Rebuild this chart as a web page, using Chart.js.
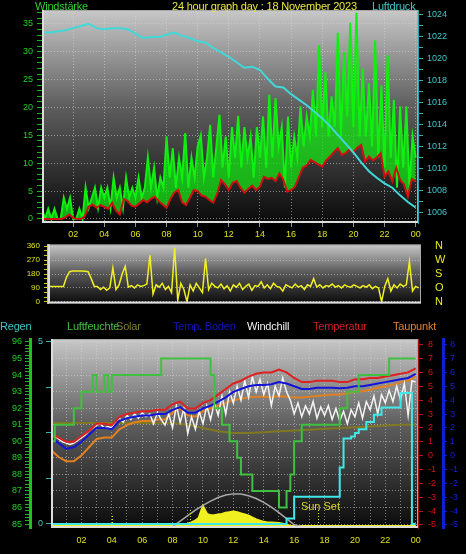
<!DOCTYPE html>
<html>
<head>
<meta charset="utf-8">
<script src="https://cdn.jsdelivr.net/npm/chart.js@4.4.0/dist/chart.umd.min.js"></script>
<style>
html,body{margin:0;padding:0;background:#000;width:466px;height:554px;overflow:hidden;font-family:"Liberation Sans",Arial,sans-serif}
canvas{position:absolute;left:0}
.t{position:absolute;font-size:11px;line-height:13px;white-space:nowrap;letter-spacing:-0.2px}
</style>
</head>
<body>
<canvas id="wind" width="466" height="244" style="top:0"></canvas>
<canvas id="dir" width="466" height="100" style="top:224px"></canvas>
<canvas id="temp" width="466" height="234" style="top:320px"></canvas>

<div class="t" style="left:35px;top:0;color:#30d030">Windstärke</div>
<div class="t" style="left:172px;top:0;color:#e8e840">24 hour graph day : 18 November 2023</div>
<div class="t" style="left:372px;top:0;color:#40c8c8">Luftdruck</div>

<div class="t" style="left:0;top:320px;color:#40c8c8">Regen</div>
<div class="t" style="left:67px;top:320px;color:#40c040">Luftfeuchte</div>
<div class="t" style="left:116px;top:320px;color:#808030">Solar</div>
<div class="t" style="left:173px;top:320px;color:#1414c0">Temp. Boden</div>
<div class="t" style="left:247px;top:320px;color:#f0f0f0">Windchill</div>
<div class="t" style="left:313px;top:320px;color:#d02020">Temperatur</div>
<div class="t" style="left:393px;top:320px;color:#e08030">Taupunkt</div>

<script>
// all series are sampled from 00:00 to 24:00, x = hour of day

// --- wind / pressure (top graph)
const gustStep = 0.2
const windGust = [1.8,0,1.8,0,1.8,0,0,3.8,1.8,3.8, 0,0,1.8,0,5.6,2.0,3.8,5.6,2.0,5.6,
  3.8,5.6,2.0,7.4,3.8,5.6,2.0,7.4,3.8,5.6, 3.8,7.4,3.8,5.6,11.0,5.6,9.2,3.8,7.4,5.6,
  14.8,7.4,12.7,5.6,11.0,7.4,15.4,5.6,11.0,7.4, 13.0,15.0,7.4,11.0,16.9,7.4,13.0,18.7,9.2,14.8,
  7.4,16.5,11.0,18.5,9.2,16.5,11.0,14.8,7.4,16.5, 11.0,18.4,9.2,22.3,11.0,21.7,13.0,16.5,5.6,18.4,
  9.2,14.8,11.0,20.2,13.0,18.4,14.8,23.2,14.8,31.2, 16.5,26.4,14.8,22.0,16.5,33.4,14.8,30.0,18.4,35.2,
  16.5,37.0,14.8,27.0,14.8,24.4,13.0,32.0,11.0,24.0, 9.2,29.4,11.0,21.4,5.6,20.2,9.2,20.2,5.6,14.8,
  11.0]

const avgStep = 0.25
const windAvg = [0,0,0,0,0,0, 0.3,0.8,0.2,0,0,0.5,
  2.2,2.6,2.0,2.5,2.2,1.8,2.9,1.5, 0.8,3.6,3.2,2.4,2.2,2.8,3.4,3.0,3.6,4.0,
  3.2,2.6,2.0,3.6,4.7,5.2,3.0,2.5,3.8,5.2, 5.0,4.2,4.0,3.4,2.9,4.5,7.0,6.2,5.2,6.5,
  6.8,5.6,4.7,5.4,6.0,5.2,5.8,7.6,7.2,7.4, 6.8,8.2,7.0,4.9,5.2,5.8,7.5,9.2,9.6,10.6,
  10.2,9.8,9.4,10.5,11.2,12.0,12.7,11.5,11.8,12.5, 12.0,12.8,13.3,10.3,11.2,10.5,11.0,11.8,7.6,8.5,
  6.7,9.2,7.0,6.2,4.0,7.2,6.7]

const pressStep = 0.5
const pressure = [1022.4,1022.4,1022.5,1022.6,1022.8,1023.0,1023.2,1022.8,1022.7,1022.8,
  1022.8,1022.7,1022.3,1021.9,1022.0,1022.0,1022.2,1022.4,1022.1,1021.9,
  1021.6,1021.5,1021.0,1020.6,1020.2,1019.7,1019.2,1019.3,1019.0,1018.2,
  1017.5,1017.4,1016.8,1016.3,1015.8,1015.2,1014.6,1013.9,1013.1,1012.3,
  1011.5,1010.6,1009.8,1009.2,1008.7,1008.3,1007.6,1007.0,1006.5]

// --- wind direction (middle graph)
const dirStep = 0.2
const windDir = [100,100,100,100,100,100,160,195,200,200, 200,200,198,195,150,100,100,80,95,75,
  90,220,80,110,180,230,95,105,90,110, 100,105,115,300,50,110,95,120,80,100,
  60,350,10,120,80,0,110,70,120,90, 60,280,80,120,100,90,115,85,105,70,
  110,95,120,80,100,115,75,105,100,130, 90,110,85,120,100,95,70,110,100,90,
  115,95,105,80,110,100,150,95,110,90, 105,100,115,95,105,90,110,100,95,110,
  100,90,105,95,110,85,100,90,0,100, 150,70,110,90,115,100,110,260,70,100,
  90]
const dirTicks = [0, 90, 180, 270, 360]
const dirNames = ['N', 'O', 'S', 'W', 'N']

// --- temperatures, humidity, rain, solar (bottom graph)
const tStep = 0.5
const temperature = [1.6,1.3,1.0,1.0,1.4,1.8,2.3,2.3,2.2,2.8, 3.0,3.1,3.2,3.2,3.3,3.3,3.7,3.9,3.4,3.4,
  3.8,4.0,4.4,4.8,5.2,5.4,5.7,5.9,6.0,6.0, 6.2,6.0,5.6,5.3,5.3,5.4,5.4,5.4,5.3,5.3,
  5.5,5.5,5.6,5.6,5.7,5.8,5.9,6.0,6.3]
const tempBoden = [1.3,0.9,0.5,0.6,1.0,1.5,2.0,2.0,1.9,2.5, 2.7,2.8,2.9,2.9,3.0,3.0,3.3,3.5,3.1,3.1,
  3.4,3.6,3.9,4.2,4.6,4.8,5.0,5.1,5.1,5.15, 5.3,5.2,5.0,4.8,4.8,4.9,4.9,4.9,4.85,4.9,
  5.0,5.0,5.1,5.2,5.3,5.4,5.5,5.6,5.9]
const taupunkt = [0.4,-0.1,-0.4,-0.4,0.0,0.6,1.2,1.3,1.3,1.9, 2.2,2.4,2.5,2.5,2.6,2.6,3.1,3.4,2.9,2.8,
  3.2,3.4,3.6,3.8,4.0,4.1,4.2,4.25,4.25,4.2, 4.3,4.25,4.2,4.2,4.25,4.3,4.35,4.4,4.4,4.5,
  4.6,4.65,4.75,4.9,5.0,5.1,5.3,5.4,5.7]

const qStep = 0.25
const windchill = [1.6,1.4,1.2,1.0,0.9,0.8,0.9,1.1,1.3,1.5, 1.8,2.0,2.2,2.3,2.0,2.1,2.0,2.5,2.7,2.4,
  2.9,2.6,3.0,2.7,3.1,2.8,3.0,2.3,3.1,2.6, 2.2,3.0,2.0,3.6,2.4,3.4,1.6,2.8,1.9,3.2,
  2.3,3.6,2.6,3.8,2.9,4.3,3.0,4.6,3.8,5.0, 4.0,5.4,4.2,5.7,4.6,5.5,4.4,5.2,3.6,5.0,
  4.3,5.6,4.6,4.0,3.0,3.8,2.8,3.6,3.0,3.9, 2.7,3.5,2.9,3.6,2.6,3.4,2.5,3.2,2.3,3.3,
  2.8,3.8,2.7,3.9,3.3,4.3,3.0,4.4,3.8,4.7, 3.9,5.0,4.0,5.2,2.9,5.4,5.3]
const humidity = [91,90,91,91,91,91,91,92,92,93, 93,93,94,93,93,94,93,94,94,94,
  94,94,94,94,94,94,94,94,94,94, 95,95,95,95,95,95,95,95,95,95,
  95,95,95,94,92,92,91,91,90,90, 89,88,88,88,87,87,87,87,87,87,
  87,86,86,87,88,90,90,91,91,91, 91,91,91,91,91,91,91,92,92,93,
  93,93,94,94,94,94,94,94,94,94, 95,95,95,95,95,95,95]
const rain = [0,0,0,0,0,0,0,0,0,0, 0,0,0,0,0,0,0,0,0,0,
  0,0,0,0,0,0,0,0,0,0, 0,0,0,0,0,0,0,0,0,0,
  0,0,0,0,0,0,0,0,0,0, 0,0,0,0,0,0,0,0,0,0,
  0,0,0,0.15,0.15,0.75,0.75,0.75,0.75,0.75, 0.75,0.75,0.75,0.75,0.75,0.75,0.75,1.55,2.35,2.35,
  2.4,2.5,2.6,2.6,2.8,2.8,3.0,3.0,3.2,3.2, 3.2,3.2,3.2,3.6,3.6,3.6,0]
const solar = [0,0,0,0,0,0,0,0,0,0, 0,0,0,0,0,0,0,0,0,0,
  0,0,0,0,0,0,0,0,0,0, 0,0,0,2,5,10,20,30,45,70,
  160,100,90,90,95,100,110,115,120,115, 105,95,85,70,55,45,35,30,30,28,
  25,20,10,3,0,0,0,0,0,0, 0,0,0,0,0,0,0,0,0,0,
  0,0,0,0,0,0,0,0,0,0, 0,0,0,0,0,0,0]
const sunStart = 8, sunStep = 0.5
const sunMax = [0,45,90,135,175,210,240,260,270,268,255,232,200,160,115,65,15,0]
const solarLine = [91.1,91.1,91.1,91.1,91.1,91.1,91.1,91.1,91.1,91.0,90.8,90.6,90.5,
  90.5,90.55,90.6,90.65,90.7,90.75,90.8,90.85,90.9,90.95,91.0,91.0]
const markerHours = [4.0, 9.15, 17.6]
const sunSetHour = 17.6

Chart.defaults.font.family = '"Liberation Sans", Arial, sans-serif'
Chart.defaults.font.size = 9

function pts(vals, start, step) {
  return vals.map((v, i) => ({x: start + i * step, y: v}))
}
function range(a, b, s) {
  let out = []
  for (let k = Math.round(a / s); k <= Math.round(b / s); k++) out.push(+(k * s).toFixed(3))
  return out
}
function setTicks(list) {
  return s => { s.ticks = list.map(v => ({value: v})) }
}
const hourLabel = v => v % 2 === 0 ? String(v % 24).padStart(2, '0') : ''
const gridCol = 'rgba(215,215,215,0.55)'

// gradient background and frame of every plot area
const plotBg = {
  id: 'plotBg',
  beforeDraw(chart) {
    const {ctx, chartArea: a} = chart
    const g = ctx.createLinearGradient(0, a.top, 0, a.bottom)
    g.addColorStop(0, '#c8c8c8')
    g.addColorStop(0.45, '#5e5e5e')
    g.addColorStop(1, '#0a0a0a')
    ctx.save()
    ctx.fillStyle = g
    ctx.fillRect(a.left, a.top, a.right - a.left, a.bottom - a.top)
    ctx.restore()
  },
  afterDraw(chart) {
    const {ctx, chartArea: a} = chart
    ctx.save()
    ctx.strokeStyle = '#a8a8a8'
    ctx.lineWidth = 1
    ctx.strokeRect(a.left + 0.5, a.top + 0.5, a.right - a.left - 1, a.bottom - a.top - 1)
    ctx.strokeStyle = '#dcdcdc'
    ctx.lineWidth = 2
    ctx.beginPath()
    ctx.moveTo(a.left + 1, a.top)
    ctx.lineTo(a.left + 1, a.bottom - 1)
    ctx.lineTo(a.right, a.bottom - 1)
    ctx.stroke()
    ctx.restore()
  }
}

const base = {
  responsive: false,
  animation: false,
  events: [],
  devicePixelRatio: 1,
  elements: {point: {radius: 0}, line: {tension: 0}},
  plugins: {legend: {display: false}, tooltip: {enabled: false}, filler: {propagate: false}}
}

// top: Windstärke + Luftdruck
new Chart(document.getElementById('wind'), {
  type: 'line',
  data: {datasets: [
    {data: pts(pressure, 0, pressStep), yAxisID: 'yP', borderColor: '#40d8d8', borderWidth: 2},
    {data: pts(windAvg, 0, avgStep), yAxisID: 'yW', borderColor: '#d01010', borderWidth: 2},
    {data: pts(windGust, 0, gustStep), yAxisID: 'yW', borderColor: '#10f010', borderWidth: 2,
      fill: 1, backgroundColor: 'rgba(20,228,20,0.75)'}
  ]},
  options: {
    ...base,
    layout: {padding: {top: 10}},
    scales: {
      x: {
        type: 'linear', min: 0, max: 24.15,
        afterFit: s => { s.height = 21 },
        afterBuildTicks: setTicks(range(2, 24, 2)),
        grid: {color: gridCol, tickColor: '#909090', tickLength: 4},
        border: {display: false, dash: [1, 2]},
        ticks: {color: '#e0e020', padding: 2, autoSkip: false, maxRotation: 0, callback: hourLabel}
      },
      yW: {
        position: 'left', min: -0.72, max: 37.5,
        afterFit: s => { s.width = 42 },
        afterBuildTicks: setTicks(range(0, 37, 1)),
        grid: {color: c => c.tick && c.tick.value % 5 === 0 ? gridCol : 'transparent', tickColor: '#20b020', tickLength: 5},
        border: {display: false, dash: [1, 2]},
        ticks: {color: '#20d020', padding: 4, autoSkip: false, callback: v => v % 5 === 0 ? v : ''}
      },
      yP: {
        position: 'right', min: 1005.09, max: 1024.45,
        afterFit: s => { s.width = 48 },
        afterBuildTicks: setTicks(range(1006, 1024, 1)),
        grid: {drawOnChartArea: false, tickColor: '#30b0b0', tickLength: 5},
        border: {display: true, color: '#30a0a0', width: 1},
        ticks: {color: '#40c8c8', padding: 4, autoSkip: false, callback: v => v % 2 === 0 ? v : ''}
      }
    }
  },
  plugins: [plotBg]
})

// middle: wind direction
new Chart(document.getElementById('dir'), {
  type: 'line',
  data: {datasets: [
    {data: pts(windDir, 0, dirStep), yAxisID: 'y', borderColor: '#f0f020', borderWidth: 1.5}
  ]},
  options: {
    ...base,
    layout: {padding: {top: 20, bottom: 12}},
    scales: {
      x: {type: 'linear', min: 0, max: 24.15, display: false},
      y: {
        position: 'left', min: -10, max: 370,
        afterFit: s => { s.width = 48 },
        afterBuildTicks: setTicks(range(0, 360, 30)),
        grid: {color: c => c.tick && c.tick.value % 90 === 0 ? gridCol : 'transparent', tickColor: '#d0d020', tickLength: 4},
        border: {display: true, color: '#d0d020', width: 2, dash: [1, 2]},
        ticks: {color: '#e0e020', padding: 4, autoSkip: false, font: {size: 8}, callback: v => v % 90 === 0 ? v : ''}
      },
      yN: {
        position: 'right', min: -10, max: 370,
        afterFit: s => { s.width = 45 },
        afterBuildTicks: setTicks(dirTicks),
        grid: {drawOnChartArea: false, drawTicks: false},
        border: {display: false},
        ticks: {color: '#e8e820', padding: 14, autoSkip: false, font: {size: 11},
          callback: v => dirNames[dirTicks.indexOf(v)]}
      }
    }
  },
  plugins: [plotBg]
})

// dotted sun markers and label in the bottom graph
const sunMarks = {
  id: 'sunMarks',
  afterDatasetsDraw(chart) {
    const {ctx, chartArea: a, scales: {x}} = chart
    const lens = [10, 18, 18]
    ctx.save()
    ctx.strokeStyle = '#e0e020'
    ctx.lineWidth = 1
    ctx.setLineDash([1, 2])
    markerHours.forEach((h, i) => {
      const px = Math.round(x.getPixelForValue(h)) + 0.5
      ctx.beginPath()
      ctx.moveTo(px, a.bottom - 2)
      ctx.lineTo(px, a.bottom - 2 - lens[i])
      ctx.stroke()
    })
    ctx.setLineDash([])
    ctx.fillStyle = '#d8d820'
    ctx.font = '11px "Liberation Sans", Arial, sans-serif'
    ctx.textAlign = 'center'
    ctx.fillText('Sun Set', x.getPixelForValue(sunSetHour) + 2, a.bottom - 18)
    ctx.restore()
  }
}

// bottom: temperatures, humidity, rain, solar
new Chart(document.getElementById('temp'), {
  type: 'line',
  data: {datasets: [
    {data: pts(rain, 0, qStep), yAxisID: 'yR', borderColor: '#40e8e8', borderWidth: 2, stepped: 'after'},
    {data: pts(humidity, 0, qStep), yAxisID: 'yH', borderColor: '#40c040', borderWidth: 2, stepped: 'after'},
    {data: pts(temperature, 0, tStep), yAxisID: 'yT', borderColor: '#e02020', borderWidth: 2},
    {data: pts(tempBoden, 0, tStep), yAxisID: 'yB', borderColor: '#1414d8', borderWidth: 2},
    {data: pts(windchill, 0, qStep), yAxisID: 'yT', borderColor: '#f4f4f4', borderWidth: 1.5},
    {data: pts(taupunkt, 0, tStep), yAxisID: 'yT', borderColor: '#e08020', borderWidth: 2},
    {data: pts(solarLine, 0, 1), yAxisID: 'yH', borderColor: '#807820', borderWidth: 2},
    {data: pts(sunMax, sunStart, sunStep), yAxisID: 'yS', borderColor: '#a8a8a8', borderWidth: 1.5},
    {data: pts(solar, 0, qStep), yAxisID: 'yS', borderColor: '#f0f020', backgroundColor: '#f0f020', borderWidth: 3, fill: 'origin'}
  ]},
  options: {
    ...base,
    layout: {padding: {top: 19}},
    scales: {
      x: {
        type: 'linear', min: 0, max: 24.15,
        afterFit: s => { s.height = 26 },
        afterBuildTicks: setTicks(range(1, 24, 1)),
        grid: {color: gridCol, tickColor: 'transparent', tickLength: 4},
        border: {display: false, dash: [1, 2]},
        ticks: {color: '#e0e020', padding: 3, autoSkip: false, maxRotation: 0, callback: hourLabel}
      },
      yH: {
        position: 'left', weight: 1, min: 84.76, max: 96.18,
        afterFit: s => { s.width = 30 },
        afterBuildTicks: setTicks(range(85, 96, 0.2)),
        grid: {color: c => c.tick && Number.isInteger(c.tick.value) ? gridCol : 'transparent', tickColor: '#20b020', tickLength: 5},
        border: {display: true, color: '#20c020', width: 3, dash: [1, 2]},
        ticks: {color: '#20d020', padding: 3, autoSkip: false, callback: v => Number.isInteger(v) ? v : ''}
      },
      yR: {
        position: 'left', weight: 0, min: -0.11, max: 5.08,
        afterFit: s => { s.width = 21 },
        afterBuildTicks: setTicks([0, 1.25, 2.5, 3.75, 5]),
        grid: {drawOnChartArea: false, tickColor: '#30b0b0', tickLength: 5},
        border: {display: false},
        ticks: {color: '#40c8c8', padding: 3, autoSkip: false, callback: v => v === 0 || v === 5 ? v : ''}
      },
      yS: {position: 'left', display: false, min: -12, max: 1550},
      yT: {
        position: 'right', weight: 0, min: -5.22, max: 8.41,
        afterFit: s => { s.width = 25 },
        afterBuildTicks: setTicks(range(-5, 8, 1)),
        grid: {drawOnChartArea: false, tickColor: '#c01010', tickLength: 5},
        border: {display: true, color: '#a01010', width: 1},
        ticks: {color: '#e01010', padding: 5, autoSkip: false}
      },
      yB: {
        position: 'right', weight: 1, min: -5.22, max: 8.41,
        afterFit: s => { s.width = 23 },
        afterBuildTicks: setTicks(range(-5, 8, 1)),
        grid: {drawOnChartArea: false, tickColor: '#1020d0', tickLength: 4},
        border: {display: true, color: '#1020d0', width: 3},
        ticks: {color: '#1020e0', padding: 3, autoSkip: false}
      }
    }
  },
  plugins: [plotBg, sunMarks]
})
</script>
</body>
</html>
